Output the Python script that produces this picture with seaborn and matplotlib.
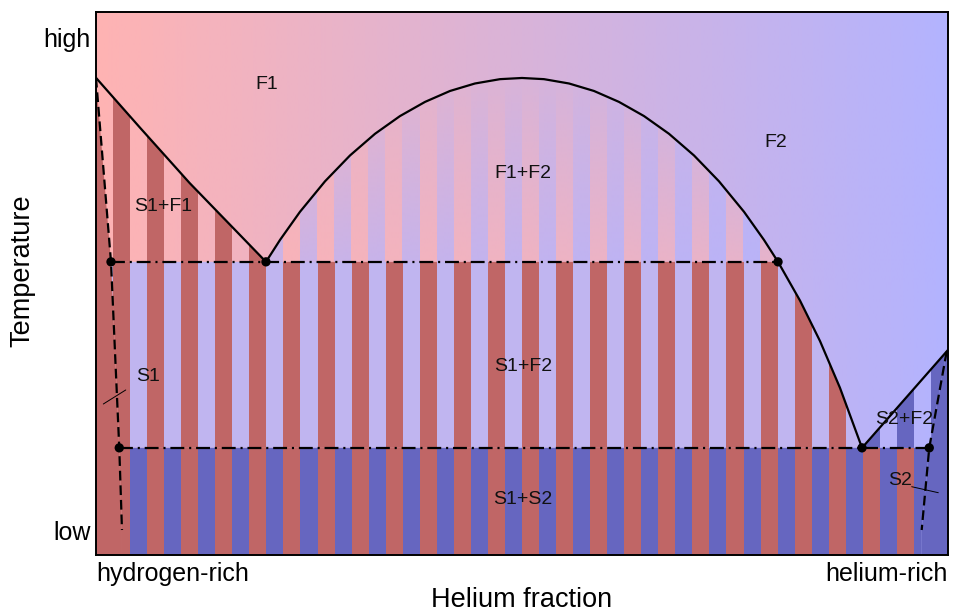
import numpy as np
import matplotlib
matplotlib.use("Agg")
import matplotlib.pyplot as plt
from matplotlib.patches import Polygon
from matplotlib.colors import to_rgb
import seaborn as sns

# ---------------- data ----------------
# composition: 0 = hydrogen-rich, 1 = helium-rich ; temperature: 0 = low, 1 = high
T_tie1 = 0.545          # upper three-phase temperature
T_tie2 = 0.167          # lower three-phase temperature

# F1 liquidus on the hydrogen side
liq1_x = [0.000, 0.052, 0.110, 0.157, 0.1995]
liq1_y = [0.919, 0.817, 0.705, 0.621, T_tie1]

# F1/F2 miscibility dome, continuing down to the lower three-phase point
dome_x = [0.1995, 0.2160, 0.2394, 0.2688, 0.2981, 0.3275, 0.3568, 0.3862,
          0.4155, 0.4448, 0.4742, 0.5000, 0.5258, 0.5552, 0.5845, 0.6138,
          0.6432, 0.6725, 0.7019, 0.7312, 0.7606, 0.7840, 0.8005, 0.8263,
          0.8498, 0.8732, 0.8991]
dome_y = [T_tie1, 0.5896, 0.6467, 0.7087, 0.7612, 0.8053, 0.8413, 0.8701,
          0.8923, 0.9075, 0.9163, 0.9187, 0.9163, 0.9075, 0.8923, 0.8701,
          0.8413, 0.8053, 0.7612, 0.7087, 0.6467, 0.5896, T_tie1, 0.4663,
          0.3839, 0.2890, T_tie2]

# S2 liquidus (helium side)
liq2_x = [0.8991, 1.000]
liq2_y = [T_tie2, 0.366]

# S1 solvus (dashed)
sol1_x = [0.000, 0.0176, 0.0273, 0.0305]
sol1_y = [0.919, T_tie1, T_tie2, 0.000]

# S2 solvus (dashed)
sol2_x = [0.9984, 0.978, 0.9691]
sol2_y = [0.3624, T_tie2, 0.000]

# three-phase points
pts_x = [0.0176, 0.1995, 0.8005, 0.0273, 0.8991, 0.978]
pts_y = [T_tie1, T_tie1, T_tie1, T_tie2, T_tie2, T_tie2]

# region labels
region_labels = ["F1", "F2", "F1+F2", "S1+F1", "S1+F2", "S1", "S1+S2", "S2+F2", "S2"]
label_x = [0.2007, 0.7981, 0.5012, 0.0786, 0.5012, 0.0610, 0.5012, 0.9484, 0.9437]
label_y = [0.9045, 0.7866, 0.7236, 0.6585, 0.3333, 0.3130, 0.0610, 0.2236, 0.1016]

# leader ticks for S1 and S2
lead1_x = [0.0086, 0.0349]
lead1_y = [0.2561, 0.2846]
lead2_x = [0.9574, 0.9886]
lead2_y = [0.0880, 0.0758]

xtick_pos = [0.0, 1.0]
xtick_labels = ["hydrogen-rich", "helium-rich"]
ytick_pos = [0.0, 1.0]
ytick_labels = ["low", "high"]

# ---------------- styling ----------------
F1_col = "#FFB3B3"
F2_col = "#B3B3FF"
S1_col = "#C06666"
S2_col = "#6666C0"
F2_mix = "#C0B5F0"
period = 0.04
stripe_w = 0.02
ybot, ytop = -0.0508, 1.0528

sns.set_theme(style="white")
plt.rcParams["font.family"] = ["Liberation Sans", "DejaVu Sans"]
plt.rcParams["lines.scale_dashes"] = False

fig = plt.figure(figsize=(9.57, 6.16), dpi=100)
ax = fig.add_axes([96 / 957, 1 - 555 / 616, 852 / 957, 543 / 616])
ax.set_xlim(0, 1)
ax.set_ylim(ybot, ytop)

# background gradient (F1 -> F2 fluid)
g = np.linspace(0, 1, 600)
c0 = np.array(to_rgb(F1_col))
c1 = np.array(to_rgb(F2_col))
bg = c0[None, None, :] * (1 - g[None, :, None]) + c1[None, None, :] * g[None, :, None]
ax.imshow(bg, extent=[0, 1, ybot, ytop], aspect="auto", origin="lower",
          interpolation="bilinear", zorder=0)


def make_poly(xs, ys):
    return Polygon(np.column_stack([xs, ys]), closed=True, facecolor="none",
                   edgecolor="none", transform=ax.transData)


def stripes(poly, color, offset, z=1):
    lefts = np.arange(offset, 1.0 - 1e-9, period)
    bars = ax.bar(lefts, ytop - ybot, bottom=ybot, width=stripe_w, align="edge",
                  color=color, linewidth=0, zorder=z)
    for b in bars:
        b.set_clip_path(poly)


i_t1 = dome_x.index(0.8005)

# F1+F2 dome: fading stripes
dome_poly = make_poly(dome_x[: i_t1 + 1], dome_y[: i_t1 + 1])
nx, ny = 1704, 300
xs = (np.arange(nx) + 0.5) / nx
is_a = ((xs - 0.02) % period) < stripe_w
col = np.where(is_a[:, None], to_rgb(F1_col), to_rgb(F2_col))
top_T = max(dome_y)
ys = T_tie1 + (np.arange(ny) + 0.5) / ny * (top_T - T_tie1)
alpha = 0.6 * (top_T - ys) / (top_T - T_tie1)
rgba = np.zeros((ny, nx, 4))
rgba[:, :, :3] = col[None, :, :]
rgba[:, :, 3] = alpha[:, None]
im = ax.imshow(rgba, extent=[0, 1, T_tie1, top_T], aspect="auto", origin="lower",
               interpolation="nearest", zorder=1)
im.set_clip_path(dome_poly)

# S1+F1
p = make_poly(liq1_x + [sol1_x[1]] + [sol1_x[0]], liq1_y + [sol1_y[1]] + [sol1_y[0]])
stripes(p, S1_col, 0.02)

# S1+F2
p = make_poly([sol1_x[1]] + dome_x[i_t1:] + [sol1_x[2]],
              [sol1_y[1]] + dome_y[i_t1:] + [sol1_y[2]])
stripes(p, S1_col, 0.02)
stripes(p, F2_mix, 0.0)

# S1+S2
p = make_poly([sol1_x[2], sol2_x[1], sol2_x[2], sol2_x[2], sol1_x[3], sol1_x[3]],
              [sol1_y[2], sol2_y[1], sol2_y[2], ybot, ybot, sol1_y[3]])
stripes(p, S1_col, 0.02)
stripes(p, S2_col, 0.0)

# S2+F2
p = make_poly(liq2_x + sol2_x[:2], liq2_y + sol2_y[:2])
stripes(p, S2_col, 0.02)

# single solid phases
ax.fill(sol1_x + [sol1_x[-1], 0.0], sol1_y + [ybot, ybot], color=S1_col, lw=0, zorder=2)
ax.fill([liq2_x[1], liq2_x[1], sol2_x[2], sol2_x[2], sol2_x[1], sol2_x[0]],
        [liq2_y[1], ybot, ybot, sol2_y[2], sol2_y[1], sol2_y[0]],
        color=S2_col, lw=0, zorder=2)

# ---------------- lines ----------------
lw = 1.6
for xs_, ys_ in [(liq1_x, liq1_y), (dome_x, dome_y), (liq2_x, liq2_y)]:
    sns.lineplot(x=xs_, y=ys_, sort=False, estimator=None, color="black",
                 lw=lw, ax=ax, zorder=4)

for xs_, ys_ in [(sol1_x, sol1_y), (sol2_x, sol2_y)]:
    sns.lineplot(x=xs_, y=ys_, sort=False, estimator=None, color="black",
                 lw=lw, ax=ax, zorder=4)
    ax.lines[-1].set_dashes((7.0, 3.5))

for T, x0, x1 in [(T_tie1, sol1_x[1], dome_x[i_t1]), (T_tie2, sol1_x[2], sol2_x[1])]:
    sns.lineplot(x=[x0, x1], y=[T, T], sort=False, estimator=None, color="black",
                 lw=lw, ax=ax, zorder=4)
    ax.lines[-1].set_dashes((10.0, 3.5, 1.5, 3.5))

for xs_, ys_ in [(lead1_x, lead1_y), (lead2_x, lead2_y)]:
    sns.lineplot(x=xs_, y=ys_, sort=False, estimator=None, color="black",
                 lw=0.7, ax=ax, zorder=4)

sns.scatterplot(x=pts_x, y=pts_y, color="black", s=45, edgecolor="none", ax=ax, zorder=5)

for t, x, y in zip(region_labels, label_x, label_y):
    ax.text(x, y, t, ha="center", va="center", fontsize=14, color="#111111", zorder=6)

# ---------------- axes ----------------
ax.set_xticks(xtick_pos)
ax.set_xticklabels(xtick_labels, fontsize=18)
xl = ax.get_xticklabels()
xl[0].set_ha("left")
xl[1].set_ha("right")
ax.set_yticks(ytick_pos)
ax.set_yticklabels(ytick_labels, fontsize=18)
ax.tick_params(axis="both", length=0, colors="black")
ax.tick_params(axis="x", pad=5)
ax.tick_params(axis="y", pad=4)
ax.set_xlabel("Helium fraction", fontsize=19.5, color="black", labelpad=1)
ax.set_ylabel("Temperature", fontsize=19.5, color="black")
ax.yaxis.set_label_coords(-0.071, 0.523)
for s in ax.spines.values():
    s.set_visible(True)
    s.set_color("black")
    s.set_linewidth(1.4)
    s.set_zorder(10)

fig.savefig("out.png", dpi=100)
